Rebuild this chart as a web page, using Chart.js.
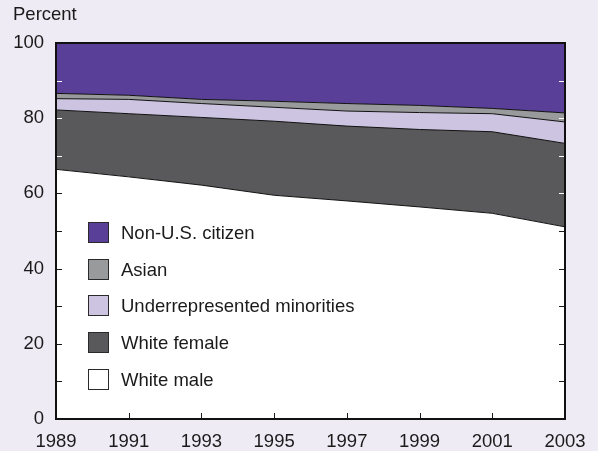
<!DOCTYPE html>
<html>
<head>
<meta charset="utf-8">
<script src="https://cdn.jsdelivr.net/npm/chart.js@4/dist/chart.umd.min.js"></script>
<style>
html,body{margin:0;padding:0;background:#eeebf5;}
#wrap{width:598px;height:451px;position:relative;}
</style>
</head>
<body>
<div id="wrap"><canvas id="c" width="598" height="451"></canvas></div>
<script>
const years = ['1989','1991','1993','1995','1997','1999','2001','2003'];
const whiteMale = [66.4, 64.4, 62.2, 59.5, 58.0, 56.4, 54.7, 51.1];
const whiteFemale = [15.8, 16.8, 18.0, 19.7, 19.9, 20.6, 21.7, 22.2];
const underrepresented = [3.0, 3.8, 3.7, 3.7, 4.0, 4.5, 4.8, 5.7];
const asian = [1.4, 1.1, 1.1, 1.6, 2.0, 1.9, 1.4, 2.4];
const nonUS = [13.4, 13.9, 15.0, 15.5, 16.1, 16.6, 17.4, 18.6];
const yTickLabels = [0, 20, 40, 60, 80, 100];

const FONT = '"Liberation Sans", Arial, Helvetica, sans-serif';
const FS = 18.5;
const TXT = '#1a1a1a';

const series = [
  {label:'White male', data: whiteMale, color:'#ffffff'},
  {label:'White female', data: whiteFemale, color:'#59595b'},
  {label:'Underrepresented minorities', data: underrepresented, color:'#cdc4e1'},
  {label:'Asian', data: asian, color:'#999a9c'},
  {label:'Non-U.S. citizen', data: nonUS, color:'#5a3f99'}
];

const decor = {
  id:'decor',
  beforeDraw(chart){
    const c = chart.ctx;
    c.save();
    c.fillStyle = '#eeebf5';
    c.fillRect(0,0,chart.width,chart.height);
    c.fillStyle = TXT;
    c.font = FS + 'px ' + FONT;
    c.textBaseline = 'alphabetic';
    c.textAlign = 'left';
    c.fillText('Percent', 13, 20);
    c.restore();
  },
  afterDatasetsDraw(chart){
    const c = chart.ctx;
    const a = chart.chartArea;
    const y = chart.scales.y, x = chart.scales.x;
    c.save();
    c.lineWidth = 1;
    for (let v = 10; v < 100; v += 10) {
      const py = Math.round(y.getPixelForValue(v)) + 0.5;
      const leftDark = v > whiteMale[0];
      const rightDark = v > whiteMale[whiteMale.length-1];
      c.strokeStyle = leftDark ? '#ffffff' : TXT;
      c.beginPath(); c.moveTo(a.left, py); c.lineTo(a.left + 6, py); c.stroke();
      c.strokeStyle = rightDark ? '#ffffff' : TXT;
      c.beginPath(); c.moveTo(a.right, py); c.lineTo(a.right - 6, py); c.stroke();
    }
    c.strokeStyle = TXT;
    for (let i = 1; i < years.length - 1; i++) {
      const px = Math.round(x.getPixelForValue(i)) + 0.5;
      c.beginPath(); c.moveTo(px, a.bottom); c.lineTo(px, a.bottom - 6); c.stroke();
    }
    c.strokeStyle = '#111111';
    c.lineWidth = 2;
    c.strokeRect(a.left, a.top, a.right - a.left, a.bottom - a.top);
    const items = series.slice().reverse();
    const bx = 88, by0 = 222, step = 36.7, bs = 21;
    c.font = FS + 'px ' + FONT;
    c.textBaseline = 'middle';
    c.textAlign = 'left';
    items.forEach((s, i) => {
      const by = Math.round(by0 + i * step);
      c.fillStyle = s.color;
      c.fillRect(bx, by, bs, bs);
      c.lineWidth = 1;
      c.strokeStyle = '#2a2a2a';
      c.strokeRect(bx + 0.5, by + 0.5, bs - 1, bs - 1);
      c.fillStyle = TXT;
      c.fillText(s.label, bx + 33, by + bs / 2 + 1);
    });
    c.restore();
  }
};

new Chart(document.getElementById('c'), {
  type: 'line',
  data: {
    labels: years,
    datasets: series.map((s, i) => ({
      label: s.label,
      data: s.data,
      backgroundColor: s.color,
      borderColor: '#111111',
      borderWidth: 1,
      pointRadius: 0,
      tension: 0,
      fill: i === 0 ? 'origin' : '-1'
    }))
  },
  options: {
    responsive: false,
    animation: false,
    devicePixelRatio: 1,
    layout: {padding: {top: 43, right: 33, left: 0, bottom: 0}},
    plugins: {legend: {display: false}, tooltip: {enabled: false}},
    scales: {
      x: {
        offset: false,
        grid: {display: false, drawTicks: false},
        border: {display: false},
        ticks: {color: TXT, font: {size: FS, family: FONT}, padding: 12, maxRotation: 0, autoSkip: false},
        afterFit(s){ s.height = 32; }
      },
      y: {
        stacked: true,
        min: 0, max: 100,
        afterBuildTicks(s){ s.ticks = yTickLabels.map(v => ({value: v})); },
        grid: {display: false, drawTicks: false},
        border: {display: false},
        ticks: {color: TXT, font: {size: FS, family: FONT}, padding: 12},
        afterFit(s){ s.width = 56; }
      }
    }
  },
  plugins: [decor]
});
</script>
</body>
</html>
